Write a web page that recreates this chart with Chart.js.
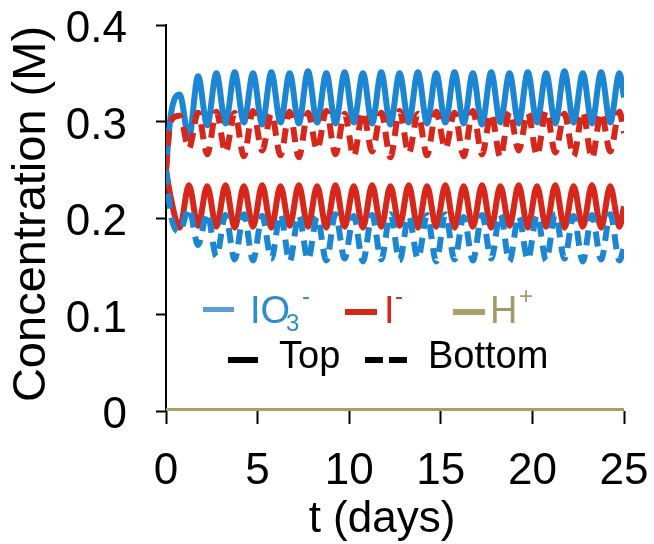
<!DOCTYPE html>
<html>
<head>
<meta charset="utf-8">
<script src="https://cdn.jsdelivr.net/npm/chart.js@4.4.1/dist/chart.umd.min.js"></script>
<style>
  html, body { margin: 0; padding: 0; background: #fff; }
  #grafico { display: block; }
</style>
</head>
<body>
<canvas id="grafico" width="654" height="544"></canvas>
<script>
// time in days (extrema of the oscillations)
const dias = [0, 0.25, 0.75, 1.25, 1.75, 2.25, 2.75, 3.25, 3.75, 4.25,
  4.75, 5.25, 5.75, 6.25, 6.75, 7.25, 7.75, 8.25, 8.75, 9.25,
  9.75, 10.25, 10.75, 11.25, 11.75, 12.25, 12.75, 13.25, 13.75, 14.25,
  14.75, 15.25, 15.75, 16.25, 16.75, 17.25, 17.75, 18.25, 18.75, 19.25,
  19.75, 20.25, 20.75, 21.25, 21.75, 22.25, 22.75, 23.25, 23.75, 24.25,
  24.75, 25];

// IO3- top (solid blue)
const io3Top = [0.250, 0.305, 0.328, 0.283, 0.347, 0.296, 0.350, 0.298, 0.351, 0.299,
  0.350, 0.297, 0.351, 0.299, 0.350, 0.298, 0.352, 0.299, 0.350, 0.298,
  0.351, 0.299, 0.350, 0.298, 0.351, 0.297, 0.350, 0.299, 0.351, 0.298,
  0.350, 0.299, 0.351, 0.298, 0.350, 0.297, 0.351, 0.299, 0.350, 0.298,
  0.351, 0.299, 0.350, 0.298, 0.352, 0.299, 0.350, 0.298, 0.351, 0.299,
  0.350, 0.325];

// IO3- bottom (dashed blue)
const io3Bottom = [0.250, 0.205, 0.186, 0.210, 0.172, 0.205, 0.160, 0.203, 0.157, 0.204,
  0.156, 0.202, 0.158, 0.204, 0.155, 0.203, 0.157, 0.201, 0.156, 0.204,
  0.158, 0.202, 0.155, 0.203, 0.157, 0.204, 0.156, 0.202, 0.158, 0.203,
  0.155, 0.204, 0.157, 0.201, 0.156, 0.203, 0.158, 0.204, 0.155, 0.202,
  0.157, 0.203, 0.156, 0.204, 0.158, 0.202, 0.155, 0.203, 0.157, 0.204,
  0.156, 0.170];

// I- top (solid red)
const iTop = [0.250, 0.222, 0.190, 0.234, 0.192, 0.233, 0.191, 0.234, 0.190, 0.233,
  0.191, 0.234, 0.190, 0.233, 0.192, 0.234, 0.191, 0.233, 0.190, 0.234,
  0.191, 0.233, 0.190, 0.234, 0.191, 0.233, 0.192, 0.234, 0.190, 0.233,
  0.191, 0.234, 0.190, 0.233, 0.191, 0.234, 0.190, 0.233, 0.192, 0.234,
  0.190, 0.233, 0.191, 0.234, 0.190, 0.233, 0.191, 0.234, 0.190, 0.233,
  0.191, 0.212];

// I- bottom (dashed red)
const iBottom = [0.250, 0.300, 0.306, 0.272, 0.309, 0.266, 0.310, 0.268, 0.309, 0.264,
  0.311, 0.270, 0.308, 0.265, 0.310, 0.263, 0.309, 0.271, 0.311, 0.266,
  0.308, 0.264, 0.310, 0.269, 0.309, 0.263, 0.311, 0.267, 0.308, 0.265,
  0.310, 0.272, 0.309, 0.264, 0.311, 0.266, 0.308, 0.263, 0.310, 0.270,
  0.309, 0.265, 0.311, 0.268, 0.308, 0.264, 0.310, 0.262, 0.309, 0.269,
  0.310, 0.288];

// H+ (flat at zero)
const diasH = [0, 25];
const hPlus = [0, 0];

const xTicks = [0, 5, 10, 15, 20, 25];
const yTicks = [0, 0.1, 0.2, 0.3, 0.4];

const AZUL = '#1d86d2';
const VERMELHO = '#d7261a';
const OLIVA = '#a99f6d';
const FONTE = '"Liberation Sans", Arial, Helvetica, sans-serif';

function pontos(xs, ys) {
    return xs.map((x, i) => ({ x: x, y: ys[i] }));
}

// titles and the two-row legend drawn onto the canvas
const extras = {
    id: 'extras',
    afterDraw(chart) {
        const ctx = chart.ctx;
        ctx.save();

        // y title
        ctx.fillStyle = '#000';
        ctx.font = '47px ' + FONTE;
        ctx.textAlign = 'center';
        ctx.textBaseline = 'alphabetic';
        ctx.translate(45, 214);
        ctx.rotate(-Math.PI / 2);
        ctx.fillText('Concentration (M)', 0, 0);
        ctx.setTransform(1, 0, 0, 1, 0, 0);

        // x title
        ctx.font = '44px ' + FONTE;
        ctx.fillText('t (days)', 382, 532);

        // legend row 1
        ctx.textAlign = 'left';
        ctx.fillStyle = '#5c9dd6';
        ctx.fillRect(203, 307, 31, 5);
        ctx.fillStyle = '#2c8bd1';
        ctx.font = '38px ' + FONTE;
        ctx.fillText('IO', 250, 323);
        ctx.font = '24px ' + FONTE;
        ctx.fillText('3', 286, 331);
        ctx.fillText('-', 302, 304);

        ctx.fillStyle = VERMELHO;
        ctx.fillRect(345, 309, 32, 6);
        ctx.font = '38px ' + FONTE;
        ctx.fillText('I', 384, 323);
        ctx.font = '24px ' + FONTE;
        ctx.fillText('-', 395, 304);

        ctx.fillStyle = OLIVA;
        ctx.fillRect(453, 309, 32, 6);
        ctx.fillStyle = '#a39a69';
        ctx.font = '38px ' + FONTE;
        ctx.fillText('H', 490, 323);
        ctx.font = '24px ' + FONTE;
        ctx.fillText('+', 519, 304);

        // legend row 2
        ctx.fillStyle = '#000';
        ctx.fillRect(228, 357, 30, 6);
        ctx.font = '38px ' + FONTE;
        ctx.fillText('Top', 279, 368);
        ctx.fillRect(365, 357, 18, 6);
        ctx.fillRect(389, 357, 18, 6);
        ctx.fillText('Bottom', 428, 368);

        ctx.restore();
    }
};

document.addEventListener('DOMContentLoaded', function() {
    const ctx = document.getElementById('grafico').getContext('2d');
    new Chart(ctx, {
        type: 'line',
        data: {
            datasets: [
                { label: 'H+', data: pontos(diasH, hPlus), borderColor: OLIVA, borderWidth: 6 },
                { label: 'IO3- Bottom', data: pontos(dias, io3Bottom), borderColor: AZUL, borderWidth: 6, borderDash: [15, 9] },
                { label: 'I- Bottom', data: pontos(dias, iBottom), borderColor: VERMELHO, borderWidth: 6, borderDash: [15, 9] },
                { label: 'I- Top', data: pontos(dias, iTop), borderColor: VERMELHO, borderWidth: 6 },
                { label: 'IO3- Top', data: pontos(dias, io3Top), borderColor: AZUL, borderWidth: 6 }
            ]
        },
        options: {
            responsive: false,
            animation: false,
            layout: { padding: { top: 25, right: 30, left: 0, bottom: 0 } },
            elements: {
                point: { radius: 0 },
                line: { cubicInterpolationMode: 'monotone', fill: false }
            },
            plugins: {
                legend: { display: false },
                tooltip: { enabled: false }
            },
            scales: {
                x: {
                    type: 'linear',
                    min: 0,
                    max: 25,
                    afterFit: function(scale) {
                        scale.height = 133;
                        scale.paddingLeft = 0;
                        scale.paddingRight = 0;
                    },
                    afterBuildTicks: function(scale) { scale.ticks = xTicks.map(v => ({ value: v })); },
                    ticks: { color: '#000', font: { size: 44, family: FONTE }, padding: 21, maxRotation: 0 },
                    grid: { drawOnChartArea: false, tickLength: 13, tickColor: '#000', tickWidth: 2 },
                    border: { display: false }
                },
                y: {
                    min: 0,
                    max: 0.4,
                    afterFit: function(scale) {
                        scale.width = 166;
                        scale.paddingTop = 0;
                        scale.paddingBottom = 0;
                    },
                    afterBuildTicks: function(scale) { scale.ticks = yTicks.map(v => ({ value: v })); },
                    ticks: {
                        color: '#000',
                        font: { size: 44, family: FONTE, lineHeight: 1 },
                        padding: 29,
                        labelOffset: 5,
                        callback: v => v === 0 ? '0' : v.toFixed(1)
                    },
                    grid: { drawOnChartArea: false, tickLength: 10, tickColor: '#000', tickWidth: 2 },
                    border: { color: '#000', width: 2 }
                }
            }
        },
        plugins: [extras]
    });
});
</script>
</body>
</html>
